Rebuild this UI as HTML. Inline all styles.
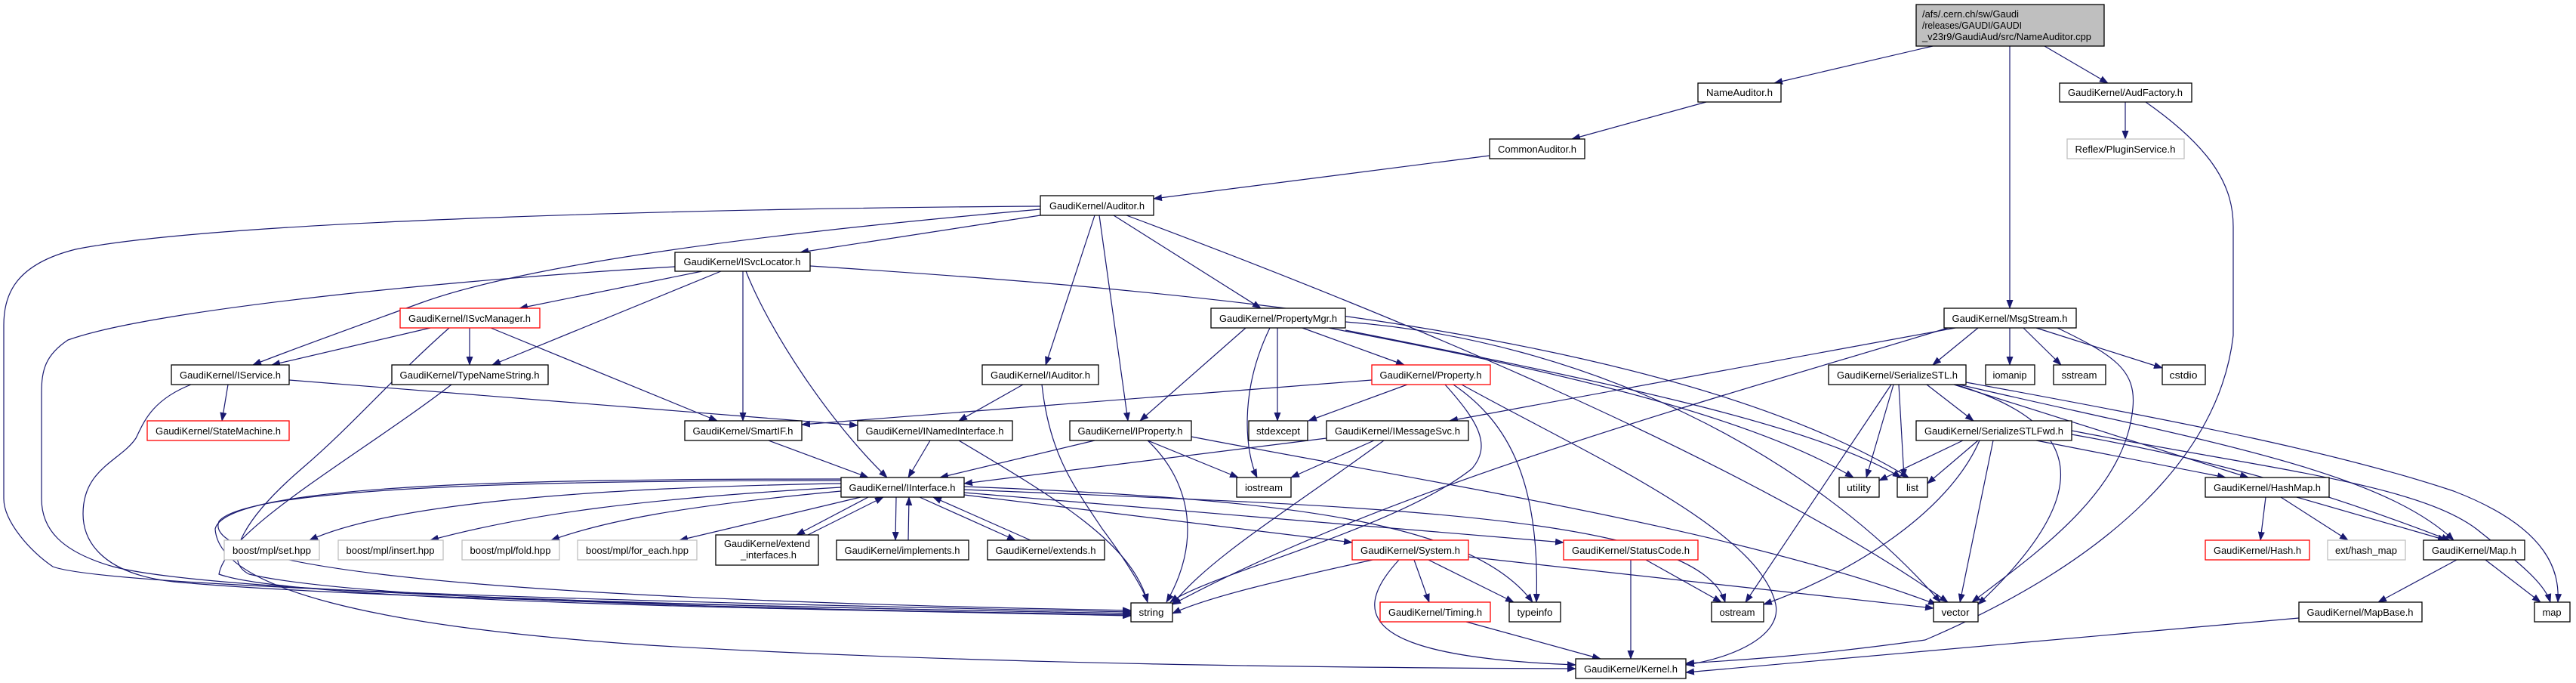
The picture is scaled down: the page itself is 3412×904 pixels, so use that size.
<!DOCTYPE html>
<html><head><meta charset="utf-8"><style>
html,body{margin:0;padding:0;background:#fff}
svg{display:block}
text{font-family:"Liberation Sans",sans-serif;font-size:13px;fill:#000}
.e{fill:none;stroke:#191970;stroke-width:1.2}
.n{fill:#fff;stroke:#000;stroke-width:1.3}
.r{fill:#fff;stroke:#ff0000;stroke-width:1.3}
.g{fill:#fff;stroke:#bfbfbf;stroke-width:1.3}
</style></head><body>
<svg width="3412" height="904" viewBox="0 0 3412 904" xmlns="http://www.w3.org/2000/svg">
<defs><marker id="a" markerUnits="userSpaceOnUse" markerWidth="12" markerHeight="9" refX="11" refY="4.5" orient="auto"><path d="M0,0 L12,4.5 L0,9 z" fill="#191970"/></marker></defs>
<g class="e" marker-end="url(#a)">
<path d="M2560,61 L2350,110"/>
<path d="M2708,61 L2792,110"/>
<path d="M2662,61 L2662,408"/>
<path d="M2815,135 L2815,184"/>
<path d="M2842,135 C2935,200 2958,250 2958,300 L2958,444 C2940,600 2800,740 2550,847 C2400,868 2300,874 2233,878"/>
<path d="M2260,135 L2082,184"/>
<path d="M1973,206 L1528,263"/>
<path d="M1378,285 L1060,334"/>
<path d="M1378,273 C1000,275 300,290 100,330 C20,350 5,390 5,430 L5,660 C5,690 40,730 70,750 C150,780 1000,800 1498,810"/>
<path d="M1378,277 C1000,310 700,350 560,400 C450,440 380,465 335,483"/>
<path d="M1450,285 L1385,483"/>
<path d="M1456,285 L1494,557"/>
<path d="M1475,285 L1670,408"/>
<path d="M1492,285 C1800,400 2300,600 2580,797"/>
<path d="M930,359 L688,408"/>
<path d="M894,353 C600,370 200,410 90,450 C60,470 55,490 55,520 L55,660 C55,700 80,730 150,750 C300,790 1100,805 1498,812"/>
<path d="M955,359 L652,483"/>
<path d="M984,359 L984,557"/>
<path d="M988,359 C1020,440 1100,560 1175,632"/>
<path d="M1073,352 C1500,380 2200,430 2528,632"/>
<path d="M570,434 L360,483"/>
<path d="M595,434 C520,500 470,560 400,620 C330,680 290,740 330,760 C500,800 1200,808 1498,814"/>
<path d="M622,434 L622,483"/>
<path d="M650,434 L950,557"/>
<path d="M302,509 L294,557"/>
<path d="M253,509 C200,530 190,560 180,580 C160,610 110,620 110,680 C110,720 140,760 230,770 C500,795 1200,806 1498,812"/>
<path d="M383,503 L1136,563"/>
<path d="M598,509 C480,600 300,700 290,760 C400,800 1200,808 1498,815"/>
<path d="M1355,509 L1270,557"/>
<path d="M1380,509 C1390,600 1420,640 1460,700 C1490,740 1515,780 1520,797"/>
<path d="M1450,583 L1245,632"/>
<path d="M1520,583 L1640,632"/>
<path d="M1520,583 C1580,640 1590,720 1545,797"/>
<path d="M1578,578 C1900,640 2300,700 2565,800"/>
<path d="M1650,434 L1510,557"/>
<path d="M1692,434 L1692,557"/>
<path d="M1682,434 C1640,520 1650,600 1665,632"/>
<path d="M1725,434 L1860,483"/>
<path d="M1782,426 C2100,450 2400,600 2570,797"/>
<path d="M1782,437 C2100,500 2400,560 2518,632"/>
<path d="M1760,434 C2000,480 2300,540 2455,632"/>
<path d="M1864,509 L1733,557"/>
<path d="M1914,509 C1960,560 1975,590 1950,620 C1850,700 1600,760 1550,797"/>
<path d="M1925,509 C2000,560 2040,640 2035,797"/>
<path d="M1936,509 C2100,600 2330,700 2352,800 C2360,840 2300,870 2233,880"/>
<path d="M1817,503 L1062,562"/>
<path d="M2590,434 L1920,557"/>
<path d="M2580,434 C2300,520 1850,640 1553,800"/>
<path d="M2620,434 L2560,483"/>
<path d="M2662,434 L2662,483"/>
<path d="M2680,434 L2730,483"/>
<path d="M2697,434 L2864,487"/>
<path d="M2725,434 C2800,470 2830,490 2825,540 C2815,650 2700,730 2612,797"/>
<path d="M1757,580 L1277,640"/>
<path d="M1820,583 L1710,632"/>
<path d="M1833,583 C1700,680 1600,740 1553,800"/>
<path d="M1018,583 L1150,632"/>
<path d="M1232,583 L1203,632"/>
<path d="M1270,583 C1400,660 1500,720 1520,797"/>
<path d="M1140,658 L900,715"/>
<path d="M1114,650 C900,670 800,690 730,715"/>
<path d="M1114,645 C850,660 700,680 570,715"/>
<path d="M1114,640 C800,645 520,665 410,715"/>
<path d="M1114,636 C800,636 330,640 290,690 C270,740 500,790 1498,808"/>
<path d="M1150,658 L1055,708"/>
<path d="M1070,708 L1170,658"/>
<path d="M1187,658 L1186,715"/>
<path d="M1203,715 L1204,658"/>
<path d="M1218,658 L1345,715"/>
<path d="M1365,715 L1236,658"/>
<path d="M1277,655 L1791,718"/>
<path d="M1277,652 L2071,718"/>
<path d="M1277,648 C1800,670 2250,680 2285,797"/>
<path d="M1277,644 C1700,660 1950,690 2030,797"/>
<path d="M1114,634 C700,634 300,640 285,700 C290,780 500,830 860,854 C1300,880 1800,884 2087,885"/>
<path d="M1818,741 C1700,767 1600,790 1553,812"/>
<path d="M1873,741 L1893,797"/>
<path d="M1892,741 L2005,797"/>
<path d="M1853,741 C1780,820 1820,870 2087,880"/>
<path d="M1945,737 L2561,805"/>
<path d="M2160,741 L2160,872"/>
<path d="M2180,741 L2280,797"/>
<path d="M1942,823 L2120,872"/>
<path d="M2552,509 L2614,557"/>
<path d="M2508,509 L2472,632"/>
<path d="M2515,509 L2522,632"/>
<path d="M2505,509 L2312,797"/>
<path d="M2590,509 C2760,560 2780,650 2620,800"/>
<path d="M2588,509 L2978,632"/>
<path d="M2595,509 C2900,580 3150,620 3250,715"/>
<path d="M2604,506 C2900,560 3100,600 3250,650 C3380,700 3390,760 3388,797"/>
<path d="M2600,583 L2489,636"/>
<path d="M2620,583 L2553,640"/>
<path d="M2622,583 C2580,680 2450,760 2336,800"/>
<path d="M2640,583 L2596,797"/>
<path d="M2697,583 L2948,632"/>
<path d="M2744,575 C3000,620 3150,680 3245,715"/>
<path d="M2744,570 C3000,620 3200,640 3280,700 C3330,740 3370,770 3378,797"/>
<path d="M3001,658 L2994,715"/>
<path d="M3021,658 L3110,715"/>
<path d="M3042,658 L3240,715"/>
<path d="M3254,741 L3150,797"/>
<path d="M3292,741 L3365,797"/>
<path d="M3045,818 L2233,890"/>
</g>
<g>
<rect x="2538" y="6" width="249" height="55" fill="#bfbfbf" stroke="#000" stroke-width="1.3"/>
<text x="2546" y="23" textLength="128" lengthAdjust="spacingAndGlyphs">/afs/.cern.ch/sw/Gaudi</text>
<text x="2546" y="38" textLength="132" lengthAdjust="spacingAndGlyphs">/releases/GAUDI/GAUDI</text>
<text x="2546" y="53" textLength="224" lengthAdjust="spacingAndGlyphs">_v23r9/GaudiAud/src/NameAuditor.cpp</text>

<rect class="n" x="2249" y="110" width="110" height="25"/><text x="2304" y="127" text-anchor="middle" textLength="88" lengthAdjust="spacingAndGlyphs">NameAuditor.h</text>
<rect class="n" x="2728" y="110" width="175" height="25"/><text x="2815" y="127" text-anchor="middle" textLength="152" lengthAdjust="spacingAndGlyphs">GaudiKernel/AudFactory.h</text>
<rect class="n" x="1973" y="184" width="126" height="26"/><text x="2036" y="202" text-anchor="middle" textLength="104" lengthAdjust="spacingAndGlyphs">CommonAuditor.h</text>
<rect class="g" x="2738" y="184" width="155" height="26"/><text x="2815" y="202" text-anchor="middle" textLength="133" lengthAdjust="spacingAndGlyphs">Reflex/PluginService.h</text>
<rect class="n" x="1378" y="259" width="150" height="26"/><text x="1453" y="277" text-anchor="middle" textLength="126" lengthAdjust="spacingAndGlyphs">GaudiKernel/Auditor.h</text>
<rect class="n" x="894" y="334" width="179" height="25"/><text x="983" y="351" text-anchor="middle" textLength="155" lengthAdjust="spacingAndGlyphs">GaudiKernel/ISvcLocator.h</text>
<rect class="r" x="530" y="408" width="185" height="26"/><text x="622" y="426" text-anchor="middle" textLength="162" lengthAdjust="spacingAndGlyphs">GaudiKernel/ISvcManager.h</text>
<rect class="n" x="1604" y="408" width="178" height="26"/><text x="1693" y="426" text-anchor="middle" textLength="156" lengthAdjust="spacingAndGlyphs">GaudiKernel/PropertyMgr.h</text>
<rect class="n" x="2575" y="408" width="175" height="26"/><text x="2662" y="426" text-anchor="middle" textLength="153" lengthAdjust="spacingAndGlyphs">GaudiKernel/MsgStream.h</text>

<rect class="n" x="227" y="483" width="156" height="26"/><text x="305" y="501" text-anchor="middle" textLength="134" lengthAdjust="spacingAndGlyphs">GaudiKernel/IService.h</text>
<rect class="n" x="519" y="483" width="207" height="26"/><text x="622" y="501" text-anchor="middle" textLength="185" lengthAdjust="spacingAndGlyphs">GaudiKernel/TypeNameString.h</text>
<rect class="n" x="1301" y="483" width="154" height="26"/><text x="1378" y="501" text-anchor="middle" textLength="132" lengthAdjust="spacingAndGlyphs">GaudiKernel/IAuditor.h</text>
<rect class="r" x="1817" y="483" width="157" height="26"/><text x="1895" y="501" text-anchor="middle" textLength="135" lengthAdjust="spacingAndGlyphs">GaudiKernel/Property.h</text>
<rect class="n" x="2422" y="483" width="182" height="26"/><text x="2513" y="501" text-anchor="middle" textLength="160" lengthAdjust="spacingAndGlyphs">GaudiKernel/SerializeSTL.h</text>
<rect class="n" x="2630" y="483" width="65" height="26"/><text x="2662" y="501" text-anchor="middle" textLength="45" lengthAdjust="spacingAndGlyphs">iomanip</text>
<rect class="n" x="2720" y="483" width="69" height="26"/><text x="2754" y="501" text-anchor="middle" textLength="47" lengthAdjust="spacingAndGlyphs">sstream</text>
<rect class="n" x="2864" y="483" width="57" height="26"/><text x="2892" y="501" text-anchor="middle" textLength="37" lengthAdjust="spacingAndGlyphs">cstdio</text>

<rect class="r" x="195" y="557" width="188" height="26"/><text x="289" y="575" text-anchor="middle" textLength="166" lengthAdjust="spacingAndGlyphs">GaudiKernel/StateMachine.h</text>
<rect class="n" x="907" y="557" width="155" height="26"/><text x="984" y="575" text-anchor="middle" textLength="133" lengthAdjust="spacingAndGlyphs">GaudiKernel/SmartIF.h</text>
<rect class="n" x="1136" y="557" width="205" height="26"/><text x="1238" y="575" text-anchor="middle" textLength="183" lengthAdjust="spacingAndGlyphs">GaudiKernel/INamedInterface.h</text>
<rect class="n" x="1417" y="557" width="161" height="26"/><text x="1497" y="575" text-anchor="middle" textLength="139" lengthAdjust="spacingAndGlyphs">GaudiKernel/IProperty.h</text>
<rect class="n" x="1654" y="557" width="78" height="26"/><text x="1693" y="575" text-anchor="middle" textLength="58" lengthAdjust="spacingAndGlyphs">stdexcept</text>
<rect class="n" x="1757" y="557" width="188" height="26"/><text x="1851" y="575" text-anchor="middle" textLength="166" lengthAdjust="spacingAndGlyphs">GaudiKernel/IMessageSvc.h</text>
<rect class="n" x="2538" y="557" width="206" height="26"/><text x="2641" y="575" text-anchor="middle" textLength="184" lengthAdjust="spacingAndGlyphs">GaudiKernel/SerializeSTLFwd.h</text>

<rect class="n" x="1114" y="632" width="163" height="26"/><text x="1195" y="650" text-anchor="middle" textLength="141" lengthAdjust="spacingAndGlyphs">GaudiKernel/IInterface.h</text>
<rect class="n" x="1638" y="632" width="72" height="26"/><text x="1674" y="650" text-anchor="middle" textLength="50" lengthAdjust="spacingAndGlyphs">iostream</text>
<rect class="n" x="2436" y="632" width="53" height="26"/><text x="2462" y="650" text-anchor="middle" textLength="32" lengthAdjust="spacingAndGlyphs">utility</text>
<rect class="n" x="2513" y="632" width="40" height="26"/><text x="2533" y="650" text-anchor="middle" textLength="16" lengthAdjust="spacingAndGlyphs">list</text>
<rect class="n" x="2921" y="632" width="164" height="26"/><text x="3003" y="650" text-anchor="middle" textLength="142" lengthAdjust="spacingAndGlyphs">GaudiKernel/HashMap.h</text>

<rect class="g" x="297" y="715" width="126" height="26"/><text x="360" y="733" text-anchor="middle" textLength="104" lengthAdjust="spacingAndGlyphs">boost/mpl/set.hpp</text>
<rect class="g" x="448" y="715" width="139" height="26"/><text x="517" y="733" text-anchor="middle" textLength="117" lengthAdjust="spacingAndGlyphs">boost/mpl/insert.hpp</text>
<rect class="g" x="612" y="715" width="129" height="26"/><text x="676" y="733" text-anchor="middle" textLength="107" lengthAdjust="spacingAndGlyphs">boost/mpl/fold.hpp</text>
<rect class="g" x="765" y="715" width="158" height="26"/><text x="844" y="733" text-anchor="middle" textLength="136" lengthAdjust="spacingAndGlyphs">boost/mpl/for_each.hpp</text>
<rect class="n" x="948" y="708" width="136" height="40"/><text x="1016" y="724" text-anchor="middle" textLength="114" lengthAdjust="spacingAndGlyphs">GaudiKernel/extend</text><text x="1018" y="739" text-anchor="middle" textLength="74" lengthAdjust="spacingAndGlyphs">_interfaces.h</text>
<rect class="n" x="1108" y="715" width="175" height="26"/><text x="1195" y="733" text-anchor="middle" textLength="153" lengthAdjust="spacingAndGlyphs">GaudiKernel/implements.h</text>
<rect class="n" x="1308" y="715" width="155" height="26"/><text x="1385" y="733" text-anchor="middle" textLength="133" lengthAdjust="spacingAndGlyphs">GaudiKernel/extends.h</text>
<rect class="r" x="1791" y="715" width="154" height="26"/><text x="1868" y="733" text-anchor="middle" textLength="132" lengthAdjust="spacingAndGlyphs">GaudiKernel/System.h</text>
<rect class="r" x="2071" y="715" width="178" height="26"/><text x="2160" y="733" text-anchor="middle" textLength="156" lengthAdjust="spacingAndGlyphs">GaudiKernel/StatusCode.h</text>
<rect class="r" x="2921" y="715" width="138" height="26"/><text x="2990" y="733" text-anchor="middle" textLength="116" lengthAdjust="spacingAndGlyphs">GaudiKernel/Hash.h</text>
<rect class="g" x="3083" y="715" width="103" height="26"/><text x="3134" y="733" text-anchor="middle" textLength="82" lengthAdjust="spacingAndGlyphs">ext/hash_map</text>
<rect class="n" x="3210" y="715" width="134" height="26"/><text x="3277" y="733" text-anchor="middle" textLength="112" lengthAdjust="spacingAndGlyphs">GaudiKernel/Map.h</text>

<rect class="n" x="1498" y="798" width="55" height="25"/><text x="1525" y="815" text-anchor="middle" textLength="33" lengthAdjust="spacingAndGlyphs">string</text>
<rect class="r" x="1828" y="797" width="146" height="26"/><text x="1901" y="815" text-anchor="middle" textLength="124" lengthAdjust="spacingAndGlyphs">GaudiKernel/Timing.h</text>
<rect class="n" x="1999" y="797" width="68" height="26"/><text x="2033" y="815" text-anchor="middle" textLength="47" lengthAdjust="spacingAndGlyphs">typeinfo</text>
<rect class="n" x="2267" y="797" width="69" height="26"/><text x="2301" y="815" text-anchor="middle" textLength="47" lengthAdjust="spacingAndGlyphs">ostream</text>
<rect class="n" x="2561" y="797" width="59" height="26"/><text x="2590" y="815" text-anchor="middle" textLength="37" lengthAdjust="spacingAndGlyphs">vector</text>
<rect class="n" x="3045" y="797" width="163" height="26"/><text x="3126" y="815" text-anchor="middle" textLength="141" lengthAdjust="spacingAndGlyphs">GaudiKernel/MapBase.h</text>
<rect class="n" x="3357" y="797" width="47" height="26"/><text x="3380" y="815" text-anchor="middle" textLength="25" lengthAdjust="spacingAndGlyphs">map</text>

<rect class="n" x="2087" y="872" width="146" height="26"/><text x="2160" y="890" text-anchor="middle" textLength="124" lengthAdjust="spacingAndGlyphs">GaudiKernel/Kernel.h</text>
</g>
</svg>
</body></html>
